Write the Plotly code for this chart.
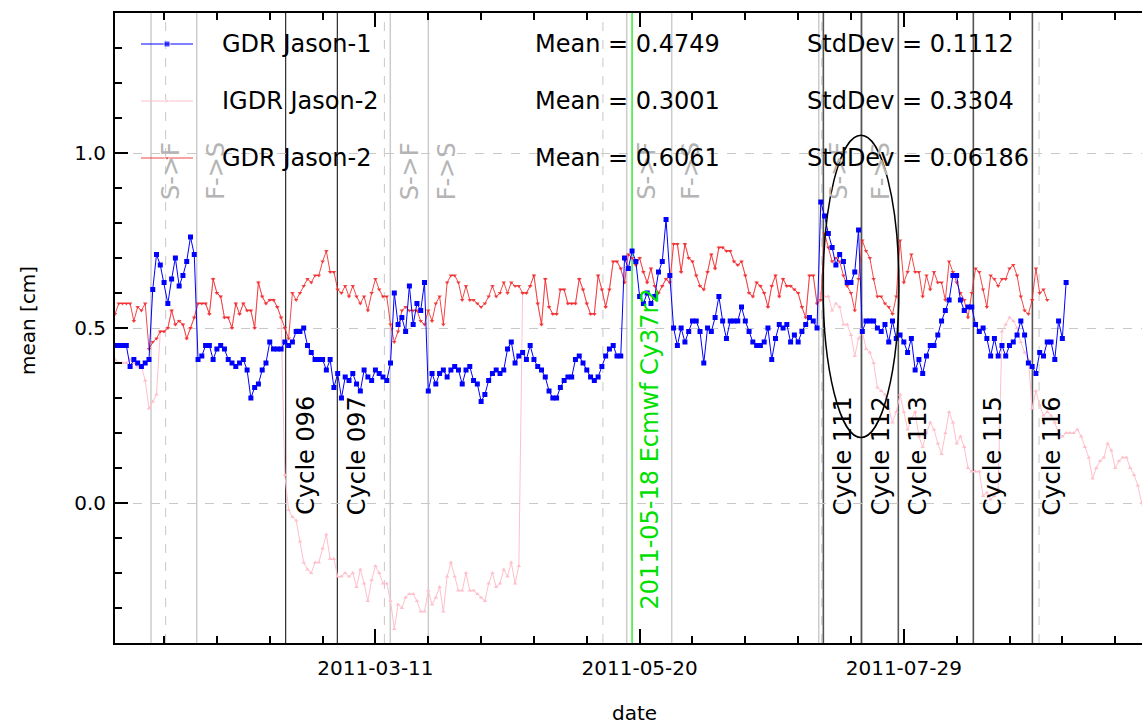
import pandas as pd
import plotly.graph_objects as go

START = "2011-01-01"

# ---------------- data (daily values) ----------------
gdr_jason1 = [
    .45, .45, .45, .45, .39, .41, .40, .39, .40, .41,
    .61, .71, .68, .63, .57, .64, .70, .62, .65, .69,
    .76, .71, .41, .42, .45, .45, .41, .44, .45, .44,
    .41, .40, .39, .40, .41, .38, .30, .33, .34, .38,
    .40, .46, .44, .44, .44, .46, .45, .46, .49, .49,
    .50, .45, .43, .41, .41, .41, .38, .41, .33, .37,
    .30, .36, .35, .37, .34, .32, .38, .36, .35, .38,
    .37, .36, .35, .40, .60, .51, .53, .49, .62, .51,
    .57, .55, .63, .32, .37, .34, .37, .38, .36, .38,
    .39, .38, .34, .38, .39, .35, .34, .29, .31, .35,
    .37, .38, .37, .38, .44, .46, .40, .42, .43, .41,
    .45, .41, .39, .38, .36, .32, .30, .30, .33, .35,
    .36, .36, .41, .42, .40, .38, .36, .35, .36, .39,
    .42, .44, .45, .42, .42, .70, .67, .72, .69, .59,
    .57, .60, .57, .59, .66, .69, .81, .65, .50, .45,
    .50, .46, .49, .52, .52, .49, .40, .50, .49, .53,
    .59, .52, .47, .52, .52, .52, .56, .52, .49, .46,
    .45, .45, .46, .50, .41, .47, .51, .50, .51, .46,
    .48, .46, .49, .51, .53, .52, .50, .86, .82, .77,
    .73, .68, .71, .69, .63, .63, .66, .78, .49, .52,
    .52, .52, .50, .49, .51, .46, .52, .47, .48, .46,
    .43, .47, .38, .41, .37, .42, .45, .45, .48, .52,
    .55, .58, .65, .65, .58, .55, .56, .56, .51, .49,
    .50, .47, .42, .47, .42, .45, .42, .45, .46, .48,
    .52, .48, .40, .39, .37, .43, .42, .46, .46, .41,
    .52, .47, .63,
]

igdr_jason2 = [
    .41, .40, .40, .40, .41, .40, .39, .39, .35, .27,
    .29, .31, .49, .49, .50, .55, .51, .52, .51, .47,
    .50, .53, .57, .57, .57, .54, .64, .60, .59, .53,
    .53, .50, .57, .54, .57, .55, .55, .50, .63, .59,
    .57, .58, .58, .56, .53, .08, -.02, -.04, -.05, -.11,
    -.17, -.19, -.20, -.17, -.17, -.13, -.09, -.16, -.16, -.21,
    -.21, -.20, -.21, -.20, -.24, -.19, -.23, -.28, -.22, -.18,
    -.20, -.23, -.23, -.28, -.36, -.29, -.30, -.27, -.26, -.26,
    -.28, -.31, -.31, -.25, -.29, -.27, -.24, -.31, -.21, -.17,
    -.21, -.25, -.25, -.20, -.25, -.25, -.26, -.27, -.28, -.23,
    -.20, -.24, -.23, -.19, -.21, -.17, -.23, -.18, .60, .60,
    .62, .65, .57, .51, .64, .56, .54, .54, .61, .61,
    .57, .57, .57, .64, .61, .57, .54, .54, .65, .61,
    .56, .61, .69, .69, .67, .63, .71, .70, .68, .70,
    .66, .63, .67, .62, .60, .62, .64, .63, .74, .74,
    .66, .74, .70, .69, .65, .62, .61, .66, .71, .67,
    .73, .73, .72, .72, .69, .68, .69, .65, .60, .59,
    .63, .62, .60, .56, .62, .65, .59, .64, .62, .62,
    .61, .60, .56, .53, .65, .65, .57, .60, .59, .59,
    .55, .57, .56, .51, .51, .48, .42, .47, .49, .44,
    .43, .40, .33, .32, .31, .27, .23, .26, .31, .26,
    .21, .24, .26, .19, .16, .20, .23, .21, .17, .14,
    .20, .26, .23, .17, .19, .16, .10, .09, .09, .09,
    .02, .03, .01, .02, .04, .49, .51, .53, .52, .50,
    .46, .43, .41, .27, .32, .28, .25, .26, .25, .23,
    .20, .19, .20, .20, .20, .21, .19, .16, .13, .07,
    .10, .12, .13, .17, .15, .10, .12, .13, .13, .10,
    .08, .05, .00, -.05,
]

gdr_jason2 = [
    .54, .57, .57, .57, .57, .52, .56, .55, .57, .44,
    .46, .47, .49, .49, .50, .55, .51, .52, .51, .47,
    .50, .53, .57, .57, .57, .54, .64, .60, .59, .53,
    .53, .50, .57, .54, .57, .55, .55, .50, .63, .59,
    .57, .58, .58, .56, .53, .50, .47, .60, .58, .60,
    .62, .64, .63, .65, .65, .69, .72, .66, .66, .61,
    .60, .62, .59, .62, .59, .57, .59, .55, .60, .64,
    .61, .59, .59, .51, .46, .49, .55, .56, .55, .55,
    .55, .52, .51, .55, .52, .57, .59, .51, .63, .65,
    .65, .63, .58, .62, .58, .58, .57, .56, .57, .59,
    .62, .59, .60, .63, .60, .63, .62, .62, .60, .60,
    .62, .65, .57, .51, .64, .56, .54, .54, .61, .61,
    .57, .57, .57, .64, .61, .57, .54, .54, .65, .61,
    .56, .61, .69, .69, .67, .63, .71, .70, .68, .70,
    .66, .63, .67, .62, .60, .62, .64, .63, .74, .74,
    .66, .74, .70, .69, .65, .62, .61, .66, .71, .67,
    .73, .73, .72, .72, .69, .68, .69, .65, .60, .59,
    .63, .62, .60, .56, .62, .65, .59, .64, .62, .62,
    .61, .60, .56, .53, .65, .65, .57, .58, .77, .73,
    .69, .70, .69, .65, .62, .60, .55, .64, .75, .72,
    .70, .64, .59, .59, .57, .56, .54, .59, .75, .63,
    .66, .71, .66, .66, .59, .65, .61, .66, .63, .63,
    .58, .69, .66, .63, .60, .58, .53, .60, .67, .66,
    .61, .56, .65, .64, .62, .64, .64, .67, .68, .65,
    .59, .55, .54, .58, .67, .60, .61, .58,
]

series_names = ["GDR Jason-1", "IGDR Jason-2", "GDR Jason-2"]
series_mean = ["0.4749", "0.3001", "0.6061"]
series_std = ["0.1112", "0.3304", "0.06186"]

# event lines
sf_dates = ["2011-01-10 13:00", "2011-03-14 22:30", "2011-05-16 14:00", "2011-07-06 11:00"]
fs_dates = ["2011-01-22 15:30", "2011-03-25 00:30", "2011-05-28 12:00", "2011-07-17 22:00"]
dashed_dates = ["2011-01-14 10:00", "2011-03-13 09:00", "2011-05-10 06:30",
                "2011-07-07 06:00", "2011-09-02 20:00"]
cycle_labels = ["Cycle 096", "Cycle 097", "Cycle 111", "Cycle 112",
                "Cycle 113", "Cycle 115", "Cycle 116"]
cycle_dates = ["2011-02-15 05:30", "2011-02-28 21:30", "2011-07-07 16:20",
               "2011-07-17 18:00", "2011-07-27 13:00", "2011-08-16 10:00",
               "2011-09-01 01:30"]
ecmwf_date = "2011-05-18"
ecmwf_label = "2011-05-18 Ecmwf Cy37r2"
ellipse_x = ["2011-07-07 14:24", "2011-07-27 17:00"]
ellipse_y = [0.187, 1.051]

x_range = ["2011-01-01", "2011-09-30 02:30"]

# ---------------- figure ----------------
FONT = "DejaVu Sans"
blue = "#0000ff"
pink = "#ffc0cb"
red = "rgba(240,40,40,0.85)"

d1 = pd.date_range(START, periods=len(gdr_jason1), freq="D")
d2 = pd.date_range(START, periods=len(igdr_jason2), freq="D")
d3 = pd.date_range(START, periods=len(gdr_jason2), freq="D")

fig = go.Figure()
fig.add_trace(go.Scatter(x=d2, y=igdr_jason2, mode="lines+markers", name=series_names[1],
                         line=dict(color=pink, width=1),
                         marker=dict(symbol="triangle-up", size=4, color=pink)))
fig.add_trace(go.Scatter(x=d3, y=gdr_jason2, mode="lines+markers", name=series_names[2],
                         line=dict(color=red, width=1),
                         marker=dict(symbol="triangle-down", size=4, color=red)))
fig.add_trace(go.Scatter(x=d1, y=gdr_jason1, mode="lines+markers", name=series_names[0],
                         line=dict(color=blue, width=1),
                         marker=dict(symbol="square", size=5, color=blue)))

shapes = []
for d in sf_dates + fs_dates:
    shapes.append(dict(type="line", xref="x", yref="paper", x0=d, x1=d, y0=0, y1=1,
                       line=dict(color="#cccccc", width=1.5), layer="below"))
for d in dashed_dates:
    shapes.append(dict(type="line", xref="x", yref="paper", x0=d, x1=d, y0=0, y1=1,
                       line=dict(color="#c8c8c8", width=1, dash="dash"), layer="below"))
for i, d in enumerate(cycle_dates):
    col = "#000000" if i < 2 else "#555555"
    w = 1 if i < 2 else 1.6
    shapes.append(dict(type="line", xref="x", yref="paper", x0=d, x1=d, y0=0, y1=1,
                       line=dict(color=col, width=w), layer="below"))
shapes.append(dict(type="line", xref="x", yref="paper", x0=ecmwf_date, x1=ecmwf_date,
                   y0=0, y1=1, line=dict(color="#33ee33", width=1.5), layer="below"))
shapes.append(dict(type="circle", xref="x", yref="y", x0=ellipse_x[0], x1=ellipse_x[1],
                   y0=ellipse_y[0], y1=ellipse_y[1], line=dict(color="black", width=1.5)))

annotations = []
for d in sf_dates:
    annotations.append(dict(x=d, y=0.86, xref="x", yref="y", text="S->F", showarrow=False,
                            textangle=-90, xanchor="center", yanchor="bottom", xshift=20,
                            font=dict(family=FONT, size=24, color="#b4b4b4")))
for d in fs_dates:
    annotations.append(dict(x=d, y=0.86, xref="x", yref="y", text="F->S", showarrow=False,
                            textangle=-90, xanchor="center", yanchor="bottom", xshift=19,
                            font=dict(family=FONT, size=24, color="#b4b4b4")))
for lab, d in zip(cycle_labels, cycle_dates):
    annotations.append(dict(x=d, y=-0.04, xref="x", yref="y", text=lab, showarrow=False,
                            textangle=-90, xanchor="center", yanchor="bottom", xshift=19.5,
                            font=dict(family=FONT, size=24, color="black")))
annotations.append(dict(x=ecmwf_date, y=-0.311, xref="x", yref="y", text=ecmwf_label,
                        showarrow=False, textangle=-90, xanchor="center", yanchor="bottom",
                        xshift=18, font=dict(family=FONT, size=24, color="#00e000")))

# legend (manual, three columns)
L, R, T, B = 115, 1142, 13, 643
W, H = R - L, B - T
def px(x):
    return (x - L) / W
def py(y):
    return (B - y) / H

row_y = [44, 101, 158]
for name, mean, std, yy in zip(series_names, series_mean, series_std, row_y):
    annotations.append(dict(x=px(220), y=py(yy), xref="paper", yref="paper", text=name,
                            showarrow=False, xanchor="left", yanchor="middle",
                            font=dict(family=FONT, size=24, color="black")))
    annotations.append(dict(x=px(533), y=py(yy), xref="paper", yref="paper",
                            text="Mean = " + mean, showarrow=False, xanchor="left",
                            yanchor="middle", font=dict(family=FONT, size=24, color="black")))
    annotations.append(dict(x=px(805), y=py(yy), xref="paper", yref="paper",
                            text="StdDev = " + std, showarrow=False, xanchor="left",
                            yanchor="middle", font=dict(family=FONT, size=24, color="black")))

sample_style = [(blue, "square", 6), (pink, "triangle-up", 5), (red, "triangle-down", 5)]
for (col, sym, sz), yy in zip(sample_style, row_y):
    fig.add_trace(go.Scatter(x=[px(141), px(167), px(193)], y=[py(yy)] * 3,
                             xaxis="x2", yaxis="y2", mode="lines+markers",
                             line=dict(color=col, width=1),
                             marker=dict(symbol=sym, size=[0, sz, 0], color=col),
                             showlegend=False, hoverinfo="skip"))

# axis titles
annotations.append(dict(x=px(634), y=py(713), xref="paper", yref="paper", text="date",
                        showarrow=False, xanchor="center", yanchor="middle",
                        font=dict(family=FONT, size=20, color="black")))
annotations.append(dict(x=px(28), y=py(321), xref="paper", yref="paper", text="mean [cm]",
                        showarrow=False, textangle=-90, xanchor="center", yanchor="middle",
                        font=dict(family=FONT, size=20, color="black")))

DAY = 86400000
fig.update_layout(
    width=1142, height=724,
    margin=dict(l=L, r=1142 - R, t=T, b=724 - B),
    paper_bgcolor="white", plot_bgcolor="white",
    showlegend=False,
    font=dict(family=FONT, size=20, color="black"),
    shapes=shapes, annotations=annotations,
    xaxis=dict(type="date", range=x_range, tick0="2011-03-11", dtick=70 * DAY,
               tickformat="%Y-%m-%d", ticks="inside", ticklen=14, tickwidth=1.5,
               tickcolor="black", showline=True, linewidth=2, linecolor="black",
               mirror="ticks", showgrid=False, zeroline=False, ticklabelstandoff=6,
               tickfont=dict(family=FONT, size=20, color="black"),
               minor=dict(tick0="2011-03-11", dtick=14 * DAY, ticks="inside", ticklen=7,
                          tickwidth=1.5, tickcolor="black", showgrid=False)),
    yaxis=dict(range=[-0.4, 1.4], tick0=0, dtick=0.5, tickformat=".1f", ticks="inside",
               ticklen=13, tickwidth=1.5, tickcolor="black", showline=True, linewidth=2,
               linecolor="black", mirror=False, showgrid=True, gridcolor="#c8c8c8",
               griddash="dash", gridwidth=1, zeroline=False, ticklabelstandoff=3,
               tickfont=dict(family=FONT, size=20, color="black"),
               minor=dict(dtick=0.1, ticks="inside", ticklen=7, tickwidth=1.5,
                          tickcolor="black", showgrid=False)),
    xaxis2=dict(overlaying="x", range=[0, 1], visible=False, fixedrange=True),
    yaxis2=dict(overlaying="y", range=[0, 1], visible=False, fixedrange=True),
)

fig.write_html("out.html")
